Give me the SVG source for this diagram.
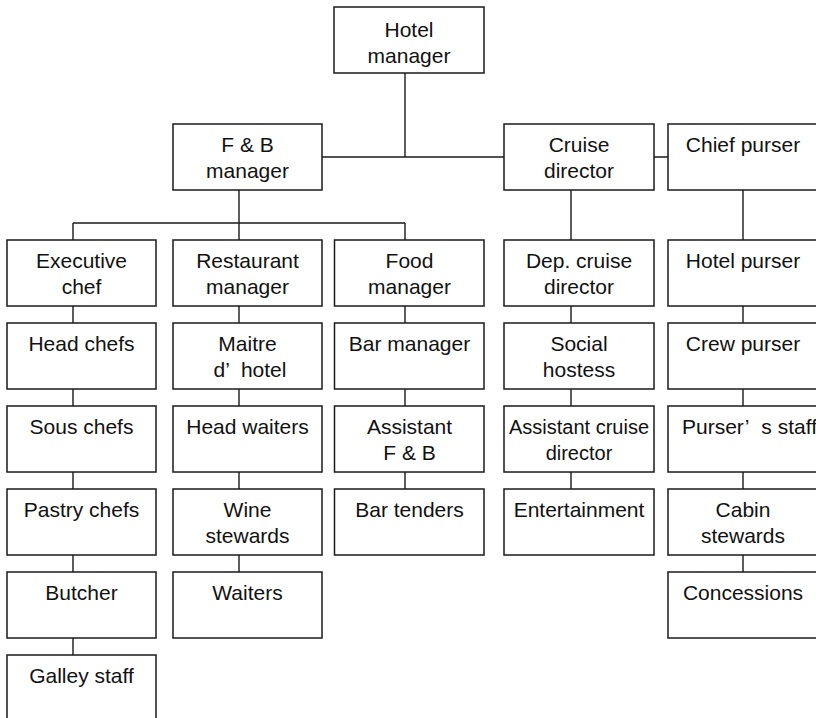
<svg xmlns="http://www.w3.org/2000/svg" width="816" height="718" viewBox="0 0 816 718">
  <style>
    .box { fill: #ffffff; stroke: #1a1a1a; stroke-width: 1.5; }
    .link { fill: none; stroke: #1a1a1a; stroke-width: 1.4; }
    text { font-family: "Liberation Sans", Arial, Helvetica, sans-serif; font-size: 21px; fill: #111111; text-anchor: middle; }
    .small { font-size: 20px; }
    .left { text-anchor: start; }
  </style>
  <rect width="816" height="718" fill="#ffffff"/>

  <!-- connectors -->
  <g id="connectors">
    <path class="link" d="M405,73 V157 M322,157 H504 M654,157 H668"/>
    <path class="link" d="M239,190 V223 M73,223 H405 M73,223 V240 M239,223 V240 M405,223 V240"/>
    <path class="link" d="M571,190 V240 M743,190 V240"/>
    <!-- executive chef column -->
    <path class="link" d="M73,306 V323 M73,389 V406 M73,472 V489 M73,555 V572 M73,638 V655"/>
    <!-- restaurant column -->
    <path class="link" d="M239,306 V323 M239,389 V406 M239,472 V489 M239,555 V572"/>
    <!-- food / bar column -->
    <path class="link" d="M405,306 V323 M405,389 V406 M405,472 V489"/>
    <!-- cruise staff column -->
    <path class="link" d="M571,306 V323 M571,389 V406 M571,472 V489"/>
    <!-- purser column -->
    <path class="link" d="M743,306 V323 M743,389 V406 M743,472 V489 M743,555 V572"/>
  </g>

  <!-- top management -->
  <g id="hotel-manager">
    <rect class="box" x="334" y="7" width="150" height="66"/>
    <text x="409" y="37">Hotel</text>
    <text x="409" y="63">manager</text>
  </g>
  <g id="fb-manager">
    <rect class="box" x="173" y="124" width="149" height="66"/>
    <text x="247.5" y="152">F &amp; B</text>
    <text x="247.5" y="177.5">manager</text>
  </g>
  <g id="cruise-director">
    <rect class="box" x="504" y="124" width="150" height="66"/>
    <text x="579" y="152">Cruise</text>
    <text x="579" y="177.5">director</text>
  </g>
  <g id="chief-purser">
    <rect class="box" x="668" y="124" width="150" height="66"/>
    <text x="743" y="152">Chief purser</text>
  </g>

  <!-- column 1: kitchen -->
  <g id="executive-chef">
    <rect class="box" x="7" y="240" width="149" height="66"/>
    <text x="81.5" y="268">Executive</text>
    <text x="81.5" y="293.5">chef</text>
  </g>
  <g id="head-chefs">
    <rect class="box" x="7" y="323" width="149" height="66"/>
    <text x="81.5" y="351">Head chefs</text>
  </g>
  <g id="sous-chefs">
    <rect class="box" x="7" y="406" width="149" height="66"/>
    <text x="81.5" y="434">Sous chefs</text>
  </g>
  <g id="pastry-chefs">
    <rect class="box" x="7" y="489" width="149" height="66"/>
    <text x="81.5" y="517">Pastry chefs</text>
  </g>
  <g id="butcher">
    <rect class="box" x="7" y="572" width="149" height="66"/>
    <text x="81.5" y="600">Butcher</text>
  </g>
  <g id="galley-staff">
    <rect class="box" x="7" y="655" width="149" height="66"/>
    <text x="81.5" y="683">Galley staff</text>
  </g>

  <!-- column 2: restaurant -->
  <g id="restaurant-manager">
    <rect class="box" x="173" y="240" width="149" height="66"/>
    <text x="247.5" y="268">Restaurant</text>
    <text x="247.5" y="293.5">manager</text>
  </g>
  <g id="maitre-d-hotel">
    <rect class="box" x="173" y="323" width="149" height="66"/>
    <text x="247.5" y="351">Maitre</text>
    <text class="left" x="213.5" y="376.5">d’<tspan dx="6"> hotel</tspan></text>
  </g>
  <g id="head-waiters">
    <rect class="box" x="173" y="406" width="149" height="66"/>
    <text x="247.5" y="434">Head waiters</text>
  </g>
  <g id="wine-stewards">
    <rect class="box" x="173" y="489" width="149" height="66"/>
    <text x="247.5" y="517">Wine</text>
    <text x="247.5" y="542.5">stewards</text>
  </g>
  <g id="waiters">
    <rect class="box" x="173" y="572" width="149" height="66"/>
    <text x="247.5" y="600">Waiters</text>
  </g>

  <!-- column 3: food and bar -->
  <g id="food-manager">
    <rect class="box" x="334.5" y="240" width="149.5" height="66"/>
    <text x="409.5" y="268">Food</text>
    <text x="409.5" y="293.5">manager</text>
  </g>
  <g id="bar-manager">
    <rect class="box" x="334.5" y="323" width="149.5" height="66"/>
    <text x="409.5" y="351">Bar manager</text>
  </g>
  <g id="assistant-fb">
    <rect class="box" x="334.5" y="406" width="149.5" height="66"/>
    <text x="409.5" y="434">Assistant</text>
    <text x="409.5" y="459.5">F &amp; B</text>
  </g>
  <g id="bar-tenders">
    <rect class="box" x="334.5" y="489" width="149.5" height="66"/>
    <text x="409.5" y="517">Bar tenders</text>
  </g>

  <!-- column 4: cruise staff -->
  <g id="dep-cruise-director">
    <rect class="box" x="504" y="240" width="150" height="66"/>
    <text x="579" y="268">Dep. cruise</text>
    <text x="579" y="293.5">director</text>
  </g>
  <g id="social-hostess">
    <rect class="box" x="504" y="323" width="150" height="66"/>
    <text x="579" y="351">Social</text>
    <text x="579" y="376.5">hostess</text>
  </g>
  <g id="assistant-cruise-director">
    <rect class="box" x="504" y="406" width="150" height="66"/>
    <text class="small" x="579" y="434">Assistant cruise</text>
    <text class="small" x="579" y="459.5">director</text>
  </g>
  <g id="entertainment">
    <rect class="box" x="504" y="489" width="150" height="66"/>
    <text x="579" y="517">Entertainment</text>
  </g>

  <!-- column 5: purser's office -->
  <g id="hotel-purser">
    <rect class="box" x="668" y="240" width="150" height="66"/>
    <text x="743" y="268">Hotel purser</text>
  </g>
  <g id="crew-purser">
    <rect class="box" x="668" y="323" width="150" height="66"/>
    <text x="743" y="351">Crew purser</text>
  </g>
  <g id="pursers-staff">
    <rect class="box" x="668" y="406" width="150" height="66"/>
    <text class="left" x="682" y="434">Purser’<tspan dx="7"> s staff</tspan></text>
  </g>
  <g id="cabin-stewards">
    <rect class="box" x="668" y="489" width="150" height="66"/>
    <text x="743" y="517">Cabin</text>
    <text x="743" y="542.5">stewards</text>
  </g>
  <g id="concessions">
    <rect class="box" x="668" y="572" width="150" height="66"/>
    <text x="743" y="600">Concessions</text>
  </g>
</svg>
